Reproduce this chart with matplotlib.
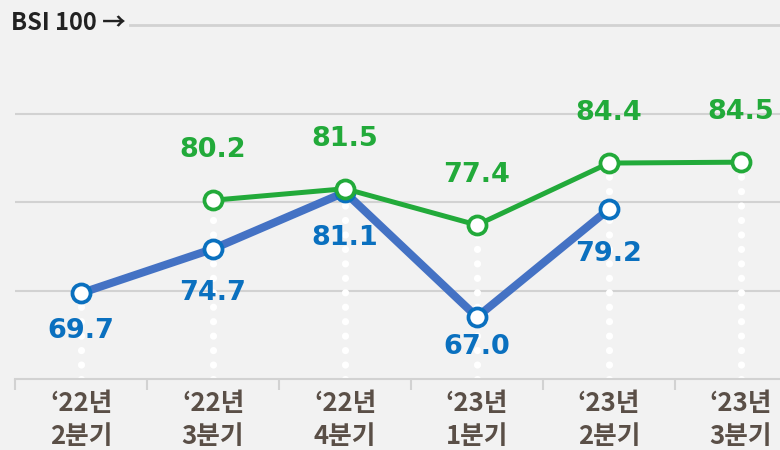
import numpy as np
import matplotlib.pyplot as plt

# Data
quarters = ["\u201822년\n2분기", "\u201822년\n3분기", "\u201822년\n4분기",
            "\u201823년\n1분기", "\u201823년\n2분기", "\u201823년\n3분기"]
blue_idx = [0, 1, 2, 3, 4]
blue_vals = [69.7, 74.7, 81.1, 67.0, 79.2]
green_idx = [1, 2, 3, 4, 5]
green_vals = [80.2, 81.5, 77.4, 84.4, 84.5]

BG = "#f2f2f2"
BLUE_LINE = "#4472c4"
BLUE = "#0a70bf"
GREEN = "#22aa3a"
GRID = "#d2d2d2"
TICK_TXT = "#5a4f47"
NUM_FONT = ["DejaVu Sans"]

plt.rcParams["font.family"] = ["Noto Sans CJK KR", "DejaVu Sans"]

fig = plt.figure(figsize=(7.8, 4.5), dpi=100, facecolor=BG)
ax = fig.add_axes([15 / 780, 1 - 379 / 450, 1 - 15 / 780, 354 / 450])
ax.set_facecolor(BG)

# gridlines
for g in [70, 80, 90]:
    ax.axhline(g, color=GRID, lw=1.5, zorder=1)
ax.plot([(130 - 15) / 132 - 0.5, 6], [100, 100], color=GRID, lw=2,
        zorder=1, clip_on=False)
fig.text(11 / 780, 1 - 23 / 450, "BSI 100 \u2192", fontsize=17,
         fontweight="bold", color="#222222", va="center", ha="left")

# dotted drop lines from highest point of each quarter
tops = {}
for i, v in zip(blue_idx, blue_vals):
    tops[i] = max(tops.get(i, 0), v)
for i, v in zip(green_idx, green_vals):
    tops[i] = max(tops.get(i, 0), v)
for i, v in tops.items():
    ax.plot([i, i], [60, v], color="white", lw=5.2,
            linestyle=(0, (0.001, 2.0)), dash_capstyle="round", zorder=2)

# lines
ax.plot(blue_idx, blue_vals, color=BLUE_LINE, lw=5.8, zorder=3,
        solid_capstyle="round")
ax.plot(blue_idx, blue_vals, linestyle="none", marker="o", ms=13,
        mfc="white", mec=BLUE, mew=2.7, zorder=4)
ax.plot(green_idx, green_vals, color=GREEN, lw=3.6, zorder=5)
ax.plot(green_idx, green_vals, linestyle="none", marker="o", ms=13,
        mfc="white", mec=GREEN, mew=2.7, zorder=6)

# value labels
blue_offsets = [-38, -44, -46, -30, -45]
for i, v, off in zip(blue_idx, blue_vals, blue_offsets):
    ax.annotate(f"{v:.1f}", (i, v), xytext=(0, off * 0.72),
                textcoords="offset points", ha="center", va="center",
                fontsize=19.5, fontweight="bold", color=BLUE,
                family=NUM_FONT, zorder=7)
for i, v in zip(green_idx, green_vals):
    ax.annotate(f"{v:.1f}", (i, v), xytext=(0, 50 * 0.72),
                textcoords="offset points", ha="center", va="center",
                fontsize=19.5, fontweight="bold", color=GREEN,
                family=NUM_FONT, zorder=7)

# axes
for s in ["top", "right", "left"]:
    ax.spines[s].set_visible(False)
ax.spines["bottom"].set_color(GRID)
ax.spines["bottom"].set_linewidth(1.5)
ax.set_yticks([])
ax.set_xticks(range(len(quarters)))
ax.set_xticklabels(quarters, fontsize=18.5, fontweight="bold",
                   color=TICK_TXT, linespacing=1.3)
ax.tick_params(axis="x", which="major", length=0, pad=8)
ax.set_xticks(np.arange(-0.5, 5.3, 1), minor=True)
ax.tick_params(axis="x", which="minor", length=8, width=1.5, color=GRID)
ax.set_xlim(-0.5, -0.5 + 765 / 132)
ax.set_ylim(60, 100)

fig.savefig("out.png", dpi=100, facecolor=BG)
